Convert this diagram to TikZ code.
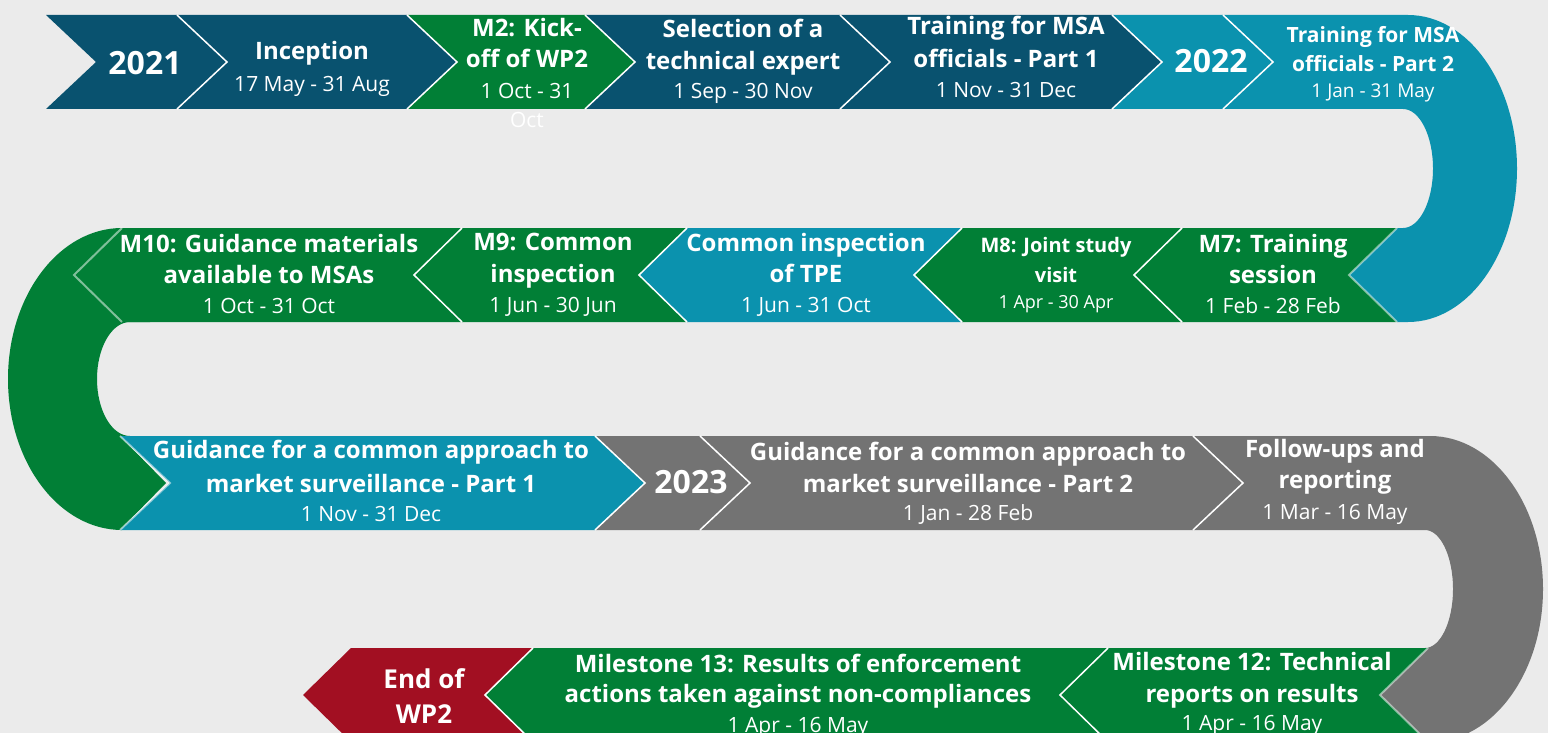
\documentclass[tikz,border=0pt]{standalone}
\usepackage{fontspec}
\setmainfont{Open Sans}
\definecolor{bg}{HTML}{EBEBEB}
\definecolor{dblue}{HTML}{09526F}
\definecolor{grn}{HTML}{017F36}
\definecolor{tealc}{HTML}{0B92AE}
\definecolor{gry}{HTML}{737373}
\definecolor{redc}{HTML}{A20F22}
\newcommand\chevR[4]{\fill[#1] (#2,#4-47) -- (#3,#4-47) -- (#3+50,#4) -- (#3,#4+47) -- (#2,#4+47) -- (#2+50,#4) -- cycle;}
\newcommand\chevL[4]{\fill[#1] (#2,#4-47) -- (#3,#4-47) -- (#3-48,#4) -- (#3,#4+47) -- (#2,#4+47) -- (#2-48,#4) -- cycle;}
\newcommand\seamR[3][]{\draw[seam,#1] (#2,#3-47) -- (#2+50,#3) -- (#2,#3+47);}
\newcommand\seamL[3][]{\draw[seam,#1] (#2,#3-47) -- (#2-48,#3) -- (#2,#3+47);}
\newcommand\tline[5]{\node[#1] (#2) at (#3,#4) {#5};}
\begin{document}
\begin{tikzpicture}[x=1pt,y=-1pt,
  seam/.style={draw=white,line width=1.5pt,line join=miter},
  faint/.style={draw opacity=0.5,line width=2pt},
  ttl/.style={text=white,anchor=base,inner sep=0pt,font=\fontsize{24}{28}\selectfont\bfseries},
  dt/.style={text=white,anchor=base,inner sep=0pt,font=\fontsize{21}{25}\selectfont},
  yr/.style={text=white,anchor=base,inner sep=0pt,font=\fontsize{32}{36}\selectfont\bfseries}]
\fill[bg] (0,0) rectangle (1548,733);
\useasboundingbox (0,0) rectangle (1548,733);
\clip (0,0) rectangle (1548,733);
% U-turns
\fill[tealc] (1223,15) -- (1408,15) arc[start angle=-90,end angle=90,x radius=109,y radius=153.5]
  -- (1397,322) -- (1349,275) -- (1397,228) -- (1403,228)
  arc[start angle=90,end angle=-90,x radius=30,y radius=59.5] -- (1223,109) -- (1273,62) -- cycle;
\fill[grn] (150,228) -- (122,228) arc[start angle=-90,end angle=-270,x radius=114,y radius=151]
  -- (120,530) -- (166,483) -- (120,436) -- (130,436)
  arc[start angle=90,end angle=270,x radius=33,y radius=57] -- (150,322) -- cycle;
\fill[gry] (1193,436) -- (1430,436) arc[start angle=-90,end angle=90,x radius=113,y radius=153]
  -- (1428,742) -- (1380,695) -- (1428,648) -- (1425,648)
  arc[start angle=90,end angle=-90,x radius=28,y radius=59] -- (1193,530) -- (1243,483) -- cycle;
% row 1
\chevR{dblue}{46}{177}{62}
\chevR{dblue}{177}{407}{62}
\chevR{grn}{407}{585}{62}
\chevR{dblue}{585}{840}{62}
\chevR{dblue}{840}{1112}{62}
\chevR{tealc}{1112}{1223}{62}
% row 2
\chevL{grn}{1182}{1397}{275}
\chevL{grn}{962}{1182}{275}
\chevL{tealc}{687}{962}{275}
\chevL{grn}{462}{687}{275}
\chevL{grn}{122}{462}{275}
% row 3
\chevR{tealc}{120}{595}{483}
\chevR{gry}{595}{700}{483}
\chevR{gry}{700}{1193}{483}
% row 4
\chevL{grn}{1108}{1428}{695}
\chevL{grn}{533}{1108}{695}
\chevL{redc}{351}{533}{695}
% seams
\seamR{177}{62}\seamR{407}{62}\seamR{585}{62}\seamR{840}{62}\seamR{1112}{62}\seamR{1223}{62}
\seamL[faint]{1397}{275}\seamL{1182}{275}\seamL{962}{275}\seamL{687}{275}\seamL{462}{275}\seamL[faint]{122}{275}
\seamR[faint]{120}{483}\seamR{595}{483}\seamR{700}{483}\seamR{1193}{483}
\seamL[faint]{1428}{695}\seamL{1108}{695}\seamL{533}{695}
% row 1 texts
\tline{yr}{n2021}{145}{75}{2021}
\tline{ttl}{inc1}{312}{60}{Inception}
\tline{dt}{incd}{312}{92}{17 May - 31 Aug}
\tline{ttl}{m2a}{527}{37}{M2: Kick-}
\tline{ttl}{m2b}{527}{68}{off of WP2}
\tline{dt}{m2d}{527}{99}{1 Oct - 31}
\tline{dt}{m2e}{527}{128}{Oct}
\tline{ttl}{sel1}{743}{38}{Selection of a}
\tline{ttl}{sel2}{743}{70}{technical expert}
\tline{dt}{seld}{743}{99}{1 Sep - 30 Nov}
\tline{ttl}{tra1}{1006}{35}{Training for MSA}
\tline{ttl}{tra2}{1006}{68}{officials - Part 1}
\tline{dt}{trad}{1006}{98}{1 Nov - 31 Dec}
\tline{yr}{n2022}{1211}{73}{2022}
\tline{ttl,font=\fontsize{21}{25}\selectfont\bfseries}{trb1}{1373}{43}{Training for MSA}
\tline{ttl,font=\fontsize{21}{25}\selectfont\bfseries}{trb2}{1373}{72}{officials - Part 2}
\tline{dt,font=\fontsize{19}{23}\selectfont}{trbd}{1373}{98}{1 Jan - 31 May}
% row 2 texts
\tline{ttl}{m7a}{1273}{252}{M7: Training}
\tline{ttl}{m7b}{1273}{283}{session}
\tline{dt}{m7d}{1273}{313}{1 Feb - 28 Feb}
\tline{ttl,font=\fontsize{20}{24}\selectfont\bfseries}{m8a}{1056}{252}{M8: Joint study}
\tline{ttl,font=\fontsize{20}{24}\selectfont\bfseries}{m8b}{1056}{282}{visit}
\tline{dt,font=\fontsize{18}{22}\selectfont}{m8d}{1056}{308}{1 Apr - 30 Apr}
\tline{ttl}{tpea}{806}{251}{Common inspection}
\tline{ttl}{tpeb}{806}{282}{of TPE}
\tline{dt}{tped}{806}{312}{1 Jun - 31 Oct}
\tline{ttl}{m9a}{553}{250}{M9: Common}
\tline{ttl}{m9b}{553}{282}{inspection}
\tline{dt}{m9d}{553}{312}{1 Jun - 30 Jun}
\tline{ttl}{m10a}{269}{252}{M10: Guidance materials}
\tline{ttl}{m10b}{269}{283}{available to MSAs}
\tline{dt}{m10d}{269}{313}{1 Oct - 31 Oct}
% row 3 texts
\tline{ttl}{g1a}{371}{458}{Guidance for a common approach to}
\tline{ttl}{g1b}{371}{492}{market surveillance - Part 1}
\tline{dt}{g1d}{371}{521}{1 Nov - 31 Dec}
\tline{yr}{n2023}{691}{493}{2023}
\tline{ttl}{g2a}{968}{460}{Guidance for a common approach to}
\tline{ttl}{g2b}{968}{492}{market surveillance - Part 2}
\tline{dt}{g2d}{968}{520}{1 Jan - 28 Feb}
\tline{ttl}{fua}{1335}{457}{Follow-ups and}
\tline{ttl}{fub}{1335}{488}{reporting}
\tline{dt}{fud}{1335}{519}{1 Mar - 16 May}
% row 4 texts
\tline{ttl}{m12a}{1252}{670}{Milestone 12: Technical}
\tline{ttl}{m12b}{1252}{702}{reports on results}
\tline{dt}{m12d}{1252}{730}{1 Apr - 16 May}
\tline{ttl}{m13a}{798}{672}{Milestone 13: Results of enforcement}
\tline{ttl}{m13b}{798}{702}{actions taken against non-compliances}
\tline{dt}{m13d}{798}{732}{1 Apr - 16 May}
\tline{ttl,font=\fontsize{26}{30}\selectfont\bfseries}{enda}{424}{688}{End of}
\tline{ttl,font=\fontsize{26}{30}\selectfont\bfseries}{endb}{424}{723}{WP2}
\end{tikzpicture}
\end{document}
